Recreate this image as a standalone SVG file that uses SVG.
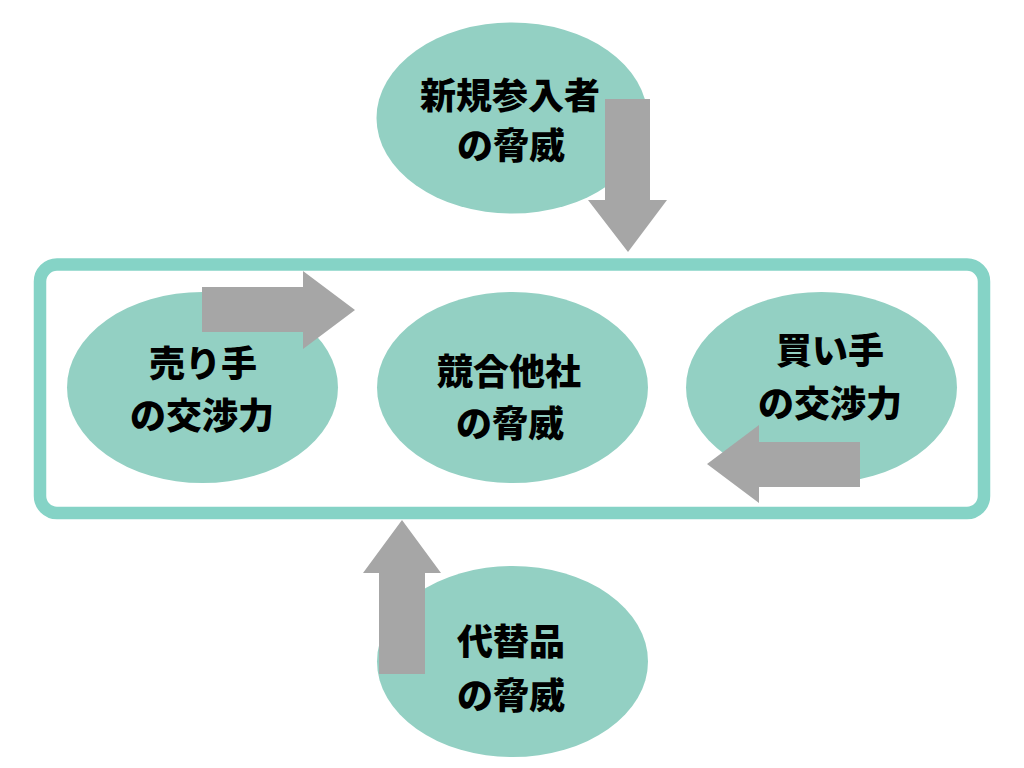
<svg xmlns="http://www.w3.org/2000/svg" width="1024" height="768" viewBox="0 0 1024 768">
<style>
.node ellipse{fill:#93D0C3}
.node text{font-family:"Noto Sans CJK JP","Noto Sans CJK SC",sans-serif;font-weight:900;font-size:36px;fill:#000;text-anchor:middle}
.arrow{fill:#A6A6A6}
.frame{fill:none;stroke:#85D3C6;stroke-width:12.5}
</style>
<rect width="1024" height="768" fill="#fff"/>
<rect id="frame" class="frame" x="40" y="264.5" width="944" height="248.5" rx="17"/>
<g id="node-new" class="node">
<ellipse cx="512" cy="118" rx="135.5" ry="95.5"/>
<text x="510" y="109">新規参入者</text>
<text x="511" y="159">の脅威</text>
</g>
<g id="node-seller" class="node">
<ellipse cx="202.5" cy="387.5" rx="135.5" ry="95.5"/>
<text x="203" y="377">売り手</text>
<text x="202" y="429">の交渉力</text>
</g>
<g id="node-rivals" class="node">
<ellipse cx="512.5" cy="387.5" rx="135.5" ry="95.5"/>
<text x="509" y="385">競合他社</text>
<text x="510" y="437">の脅威</text>
</g>
<g id="node-buyer" class="node">
<ellipse cx="821.5" cy="387.5" rx="135.5" ry="95.5"/>
<text x="830" y="364">買い手</text>
<text x="830" y="417">の交渉力</text>
</g>
<g id="node-subst" class="node">
<ellipse cx="512.5" cy="661.5" rx="135.5" ry="95.5"/>
<text x="511" y="655">代替品</text>
<text x="511" y="709">の脅威</text>
</g>
<g id="connectors">
<polygon class="arrow" points="605,99 650,99 650,200 667,200 628,252 588,200 605,200"/>
<polygon class="arrow" points="202,287 303,287 303,271 355,310 303,349 303,332 202,332"/>
<polygon class="arrow" points="860,442 759,442 759,425 707,464 759,503 759,487 860,487"/>
<polygon class="arrow" points="379,674 379,573 363,573 402,520 441,573 425,573 425,674"/>
</g>
</svg>
